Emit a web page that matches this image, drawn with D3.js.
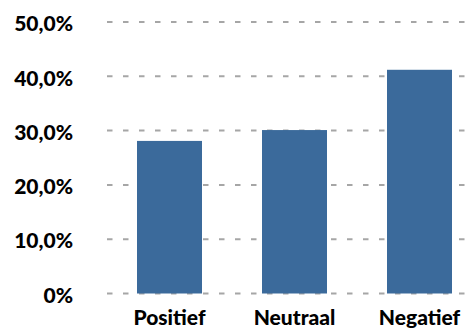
<!DOCTYPE html>
<html>
<head>
<meta charset="utf-8">
<script src="https://cdn.jsdelivr.net/npm/d3@7"></script>
<style>
  html, body { margin: 0; padding: 0; background: #fff; }
  svg { display: block; }
</style>
</head>
<body>
<svg id="chart" width="471" height="329"></svg>
<script>
// Sentiment distribution (share of responses)
const categories = ["Positief", "Neutraal", "Negatief"];
const values = [0.281, 0.301, 0.412];
const tickValues = [0, 0.1, 0.2, 0.3, 0.4, 0.5];
const tickLabels = ["0%", "10,0%", "20,0%", "30,0%", "40,0%", "50,0%"];

const svg = d3.select("#chart");
const plot = { left: 107, right: 482, top: 22, bottom: 293.5, gridEnd: 466 };
const labelFont = "Lato, 'Open Sans', sans-serif";

const x = d3.scaleBand()
  .domain(categories)
  .range([plot.left, plot.right])
  .paddingInner(0.48)
  .paddingOuter(0.24);

const y = d3.scaleLinear()
  .domain([0, 0.5])
  .range([plot.bottom, plot.top]);

// Dashed horizontal gridlines
svg.append("g")
  .selectAll("line")
  .data(tickValues)
  .join("line")
  .attr("x1", plot.left)
  .attr("x2", plot.gridEnd)
  .attr("y1", d => y(d))
  .attr("y2", d => y(d))
  .attr("stroke", "#a6a6a6")
  .attr("stroke-width", 2)
  .attr("stroke-dasharray", "5.5,10.5");

// Bars
svg.append("g")
  .selectAll("rect")
  .data(values)
  .join("rect")
  .attr("x", (d, i) => x(categories[i]))
  .attr("width", x.bandwidth())
  .attr("y", d => y(d))
  .attr("height", d => y(0) - y(d))
  .attr("fill", "#3b6a9b");

// Y axis labels
const yAxis = d3.axisLeft(y)
  .tickValues(tickValues)
  .tickFormat((d, i) => tickLabels[i])
  .tickSize(0)
  .tickPadding(0);

svg.append("g")
  .attr("transform", "translate(73,2)")
  .call(yAxis)
  .call(g => g.select(".domain").remove())
  .call(g => g.selectAll("text")
    .attr("font-family", labelFont)
    .attr("font-weight", 900)
    .attr("font-size", 21)
    .attr("fill", "#000"));

// X axis labels
const xAxis = d3.axisBottom(x).tickSize(0).tickPadding(0);
svg.append("g")
  .attr("transform", "translate(0,310)")
  .call(xAxis)
  .call(g => g.select(".domain").remove())
  .call(g => g.selectAll("text")
    .attr("dy", "0.71em")
    .attr("font-family", labelFont)
    .attr("font-weight", 900)
    .attr("font-size", 21)
    .attr("fill", "#000"));
</script>
</body>
</html>
